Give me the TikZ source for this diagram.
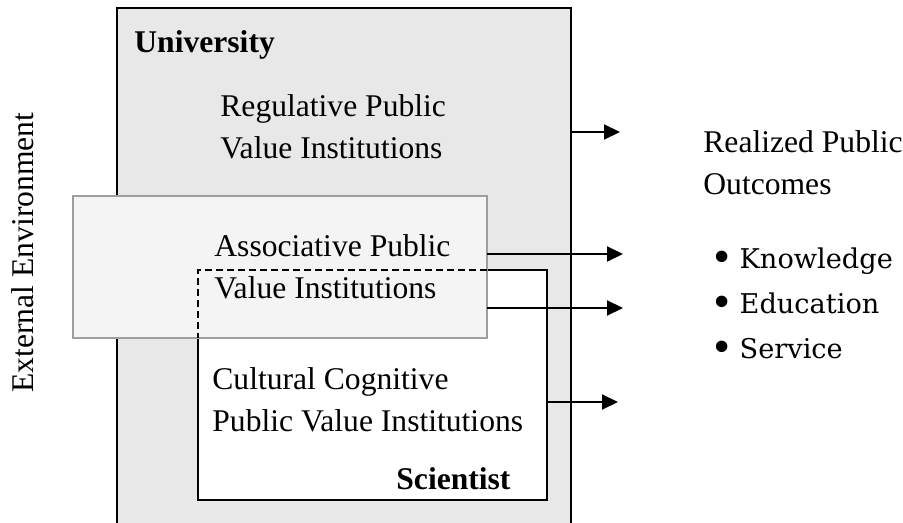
\documentclass[tikz,border=0pt]{standalone}
\usepackage{fontspec}
\setmainfont{Liberation Serif}
\newfontfamily\listfont{DejaVu Serif}
\usetikzlibrary{arrows.meta}
\pgfdeclarelayer{edgelayer}
\pgfdeclarelayer{nodelayer}
\pgfsetlayers{edgelayer,nodelayer,main}
\definecolor{unifill}{gray}{0.91}
\definecolor{assocfill}{gray}{0.955}
\definecolor{assocline}{gray}{0.62}
\newcommand{\itembullet}{\raisebox{-0.13em}{\scalebox{1.45}{•}}\hspace{3pt}}
\tikzstyle{none} = []
\tikzstyle{unibox} = [fill=unifill, draw=black, line width=1pt]
\tikzstyle{scibox} = [fill=white, draw=black, line width=1.1pt]
\tikzstyle{assocbox} = [fill=assocfill, draw=assocline, line width=0.9pt]
\tikzstyle{hidden} = [draw=black, line width=1pt, dash pattern=on 3.5pt off 2pt]
\tikzstyle{outarrow} = [line width=1pt, -{Triangle[length=8pt, width=7.5pt]}]
% multi-line labels sit on the baseline of their last line
\tikzstyle{label} = [anchor=base west, inner sep=0pt, align=left, font=\fontsize{15.8}{21}\selectfont]
\tikzstyle{boldlabel} = [label, font=\fontsize{15.8}{21}\selectfont\bfseries]
\tikzstyle{sidelabel} = [anchor=base, inner sep=0pt, rotate=90, font=\fontsize{15.8}{21}\selectfont]
\tikzstyle{listlabel} = [anchor=base west, inner sep=0pt, align=left, font=\fontsize{13.6}{22.5}\selectfont\listfont]

\begin{document}
\begin{tikzpicture}[x=0.5pt, y=-0.5pt]
	\useasboundingbox (0, 0) rectangle (903, 523);
	\begin{pgfonlayer}{nodelayer}
		\node [style=none] (0) at (117, 523) {};
		\node [style=none] (1) at (117, 8) {};
		\node [style=none] (2) at (571, 8) {};
		\node [style=none] (3) at (571, 523) {};
		\node [style=none] (4) at (198, 270) {};
		\node [style=none] (5) at (547, 500) {};
		\node [style=none] (6) at (73, 196) {};
		\node [style=none] (7) at (487, 338) {};
		\node [style=none] (8) at (620, 132) {};
		\node [style=none] (9) at (623, 254) {};
		\node [style=none] (10) at (623, 308) {};
		\node [style=none] (11) at (618, 402) {};
		\node [style=boldlabel] (12) at (134, 53) {University};
		\node [style=label] (13) at (220, 159) {Regulative Public\\Value Institutions};
		\node [style=label] (14) at (214, 299) {Associative Public\\Value Institutions};
		\node [style=label] (15) at (212, 431) {Cultural Cognitive\\Public Value Institutions};
		\node [style=boldlabel] (16) at (396, 489) {Scientist};
		\node [style=sidelabel] (17) at (33, 252.5) {External Environment};
		\node [style=label] (18) at (703, 195) {Realized Public\\Outcomes};
		\node [style=listlabel] (19) at (710, 358) {\itembullet Knowledge\\\itembullet Education\\\itembullet Service};
	\end{pgfonlayer}
	\begin{pgfonlayer}{edgelayer}
		\path [style=unibox] (0.center) -- (1.center) -- (2.center) -- (3.center);
		\draw [style=scibox] (4.center) rectangle (5.center);
		\draw [style=assocbox] (6.center) rectangle (7.center);
		\draw [style=hidden] (4.center -| 7.center) -- (4.center) -- (4.center |- 7.center);
		\draw [style=outarrow] (2.center |- 8.center) to (8.center);
		\draw [style=outarrow] (7.center |- 9.center) to (9.center);
		\draw [style=outarrow] (7.center |- 10.center) to (10.center);
		\draw [style=outarrow] (5.center |- 11.center) to (11.center);
	\end{pgfonlayer}
\end{tikzpicture}
\end{document}
